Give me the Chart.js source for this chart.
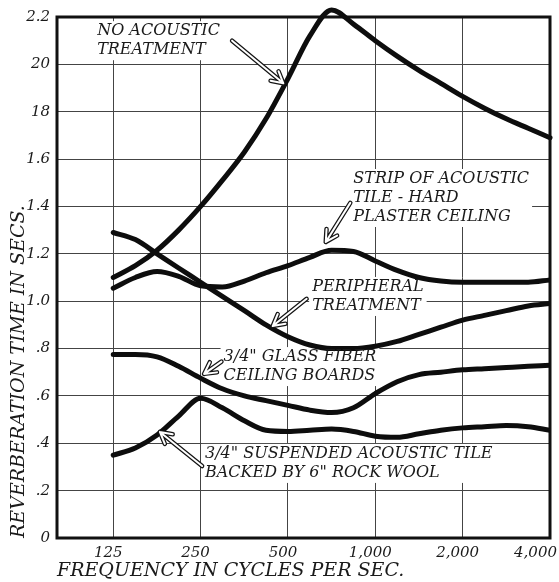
<!DOCTYPE html>
<html lang="en">
	<head>
		<meta charset="UTF-8" />
		<meta name="viewport" content="width=device-width, initial-scale=1.0" />
		<title>Reverberation Time</title>
		<script src="https://cdn.jsdelivr.net/npm/chart.js@4.4.3/dist/chart.umd.min.js"></script>
	</head>

	<style>
		body {
			margin: 0;
			background: #fff;
		}

		canvas {
			display: block;
		}
	</style>
	<body>
		<canvas id="reverbChart" width="559" height="582"></canvas>

		<script>
			// readings taken every quarter octave
			const frequencies = [125, 149, 177, 210, 250, 297, 354, 420, 500, 595, 707, 841, 1000, 1189, 1414, 1682, 2000, 2378, 2828, 3364, 4000];
			const noTreatment = [1.1, 1.15, 1.215, 1.3, 1.4, 1.51, 1.63, 1.77, 1.94, 2.12, 2.23, 2.17, 2.1, 2.035, 1.975, 1.92, 1.865, 1.815, 1.77, 1.73, 1.69];
			const stripTile = [1.055, 1.1, 1.125, 1.105, 1.065, 1.06, 1.085, 1.12, 1.15, 1.185, 1.215, 1.21, 1.17, 1.13, 1.1, 1.085, 1.08, 1.08, 1.08, 1.08, 1.09];
			const peripheral = [1.29, 1.26, 1.2, 1.14, 1.08, 1.02, 0.96, 0.9, 0.85, 0.815, 0.8, 0.8, 0.81, 0.83, 0.86, 0.89, 0.92, 0.94, 0.96, 0.98, 0.99];
			const glassFiber = [0.775, 0.775, 0.765, 0.725, 0.675, 0.63, 0.6, 0.58, 0.56, 0.54, 0.53, 0.55, 0.61, 0.66, 0.69, 0.7, 0.71, 0.715, 0.72, 0.725, 0.73];
			const suspendedTile = [0.35, 0.38, 0.435, 0.515, 0.59, 0.55, 0.495, 0.455, 0.45, 0.455, 0.46, 0.45, 0.43, 0.425, 0.44, 0.455, 0.465, 0.47, 0.475, 0.47, 0.455];

			const freqTicks = [125, 250, 500, 1000, 2000, 4000];
			const freqTickLabels = ["125", "250", "500", "1,000", "2,000", "4,000"];
			const timeTicks = [0, 0.2, 0.4, 0.6, 0.8, 1.0, 1.2, 1.4, 1.6, 1.8, 2.0, 2.2];
			const timeTickLabels = ["0", ".2", ".4", ".6", ".8", "1.0", "1.2", "1.4", "1.6", "18", "20", "2.2"];

			// hand lettered notes: text anchor and arrow, in frequency / seconds
			const notes = [
				{ lines: ["NO ACOUSTIC", "TREATMENT"], at: [110, 2.14], from: [321, 2.1], to: [482, 1.92] },
				{ lines: ["STRIP OF ACOUSTIC", "TILE - HARD", "PLASTER CEILING"], at: [840, 1.516], from: [820, 1.415], to: [675, 1.25] },
				{ lines: ["PERIPHERAL", "TREATMENT"], at: [606, 1.06], from: [580, 1.01], to: [443, 0.895] },
				{ lines: ['3/4" GLASS FIBER', "CEILING BOARDS"], at: [300, 0.764], from: [295, 0.745], to: [257, 0.693] },
				{ lines: ['3/4" SUSPENDED ACOUSTIC TILE', 'BACKED BY 6" ROCK WOOL'], at: [259, 0.355], from: [253, 0.304], to: [181, 0.448] },
			];

			const letterFont = "italic 16px 'DejaVu Serif'";
			const lineGap = 19;

			function toPoints(values) {
				return frequencies.map((f, i) => ({ x: f, y: values[i] }));
			}

			function drawArrow(ctx, x1, y1, x2, y2) {
				const a = Math.atan2(y2 - y1, x2 - x1);
				const head = 13;
				const path = () => {
					ctx.beginPath();
					ctx.moveTo(x1, y1);
					ctx.lineTo(x2, y2);
					ctx.moveTo(x2 - head * Math.cos(a - 0.5), y2 - head * Math.sin(a - 0.5));
					ctx.lineTo(x2, y2);
					ctx.lineTo(x2 - head * Math.cos(a + 0.5), y2 - head * Math.sin(a + 0.5));
				};
				ctx.lineCap = "round";
				ctx.lineJoin = "round";
				path();
				ctx.strokeStyle = "#151515";
				ctx.lineWidth = 4.5;
				ctx.stroke();
				path();
				ctx.strokeStyle = "#fff";
				ctx.lineWidth = 2;
				ctx.stroke();
			}

			const notesPlugin = {
				id: "notes",
				beforeDatasetsDraw(chart) {
					const { ctx, chartArea, scales } = chart;
					ctx.save();
					ctx.font = letterFont;
					ctx.fillStyle = "#fff";
					notes.forEach((n) => {
						const tx = scales.x.getPixelForValue(n.at[0]);
						const ty = scales.y.getPixelForValue(n.at[1]);
						const w = Math.max(...n.lines.map((l) => ctx.measureText(l).width));
						ctx.fillRect(tx - 3, ty - 10, w + 6, (n.lines.length - 1) * lineGap + 20);
					});
					// frame round the plot
					ctx.strokeStyle = "#111";
					ctx.lineWidth = 3;
					ctx.strokeRect(chartArea.left, chartArea.top, chartArea.right - chartArea.left, chartArea.bottom - chartArea.top);
					ctx.restore();
				},
				afterDatasetsDraw(chart) {
					const { ctx, scales } = chart;
					ctx.save();
					ctx.font = letterFont;
					ctx.fillStyle = "#1a1a1a";
					ctx.textBaseline = "middle";
					notes.forEach((n) => {
						const tx = scales.x.getPixelForValue(n.at[0]);
						const ty = scales.y.getPixelForValue(n.at[1]);
						n.lines.forEach((line, i) => ctx.fillText(line, tx, ty + i * lineGap));
						drawArrow(
							ctx,
							scales.x.getPixelForValue(n.from[0]),
							scales.y.getPixelForValue(n.from[1]),
							scales.x.getPixelForValue(n.to[0]),
							scales.y.getPixelForValue(n.to[1])
						);
					});
					ctx.restore();
				},
				afterDraw(chart) {
					const { ctx, scales } = chart;
					ctx.save();
					ctx.font = "italic 15px 'DejaVu Serif'";
					ctx.fillStyle = "#1a1a1a";
					ctx.textAlign = "center";
					ctx.textBaseline = "middle";
					freqTicks.forEach((f, i) => {
						const w = ctx.measureText(freqTickLabels[i]).width;
						const px = Math.min(scales.x.getPixelForValue(f) - 5, chart.width - 2 - w / 2);
						ctx.fillText(freqTickLabels[i], px, scales.x.top + 15);
					});
					ctx.restore();
				},
			};

			document.addEventListener("DOMContentLoaded", function () {
				const ctx = document.getElementById("reverbChart").getContext("2d");

				const axisFont = { family: "DejaVu Serif", style: "italic", size: 15 };
				const titleFont = { family: "DejaVu Serif", style: "italic", size: 19 };

				const reverbChart = new Chart(ctx, {
					type: "line",
					data: {
						datasets: [
							{ label: "No acoustic treatment", data: toPoints(noTreatment), clip: false },
							{ label: "Strip of acoustic tile - hard plaster ceiling", data: toPoints(stripTile) },
							{ label: "Peripheral treatment", data: toPoints(peripheral) },
							{ label: '3/4" glass fiber ceiling boards', data: toPoints(glassFiber) },
							{ label: '3/4" suspended acoustic tile backed by 6" rock wool', data: toPoints(suspendedTile) },
						],
					},
					options: {
						responsive: false,
						animation: false,
						layout: { padding: { top: 17, right: 9, left: 0, bottom: 0 } },
						plugins: {
							legend: { display: false },
							tooltip: { enabled: false },
						},
						elements: {
							point: { radius: 0 },
							line: {
								borderWidth: 5,
								borderColor: "#0d0d0d",
								cubicInterpolationMode: "monotone",
								borderCapStyle: "round",
								borderJoinStyle: "round",
							},
						},
						scales: {
							x: {
								type: "logarithmic",
								min: 80,
								max: 4000,
								afterBuildTicks: (s) => {
									s.ticks = freqTicks.map((v) => ({ value: v }));
								},
								afterFit: (s) => {
									s.height = 44;
								},
								ticks: { display: false },
								grid: { color: "#444", lineWidth: 1, drawTicks: false },
								border: { display: false },
								title: {
									display: true,
									text: "FREQUENCY IN CYCLES PER SEC.",
									align: "start",
									color: "#1a1a1a",
									font: titleFont,
									padding: 0,
								},
							},
							y: {
								min: 0,
								max: 2.2,
								afterBuildTicks: (s) => {
									s.ticks = timeTicks.map((v) => ({ value: v }));
								},
								afterFit: (s) => {
									s.width = 57;
								},
								ticks: {
									padding: 7,
									color: "#1a1a1a",
									font: axisFont,
									callback: (v, i) => timeTickLabels[i],
								},
								grid: { color: "#444", lineWidth: 1, drawTicks: false },
								border: { display: false },
								title: {
									display: true,
									text: "REVERBERATION TIME IN SECS.",
									align: "start",
									color: "#1a1a1a",
									font: titleFont,
									padding: { top: 8, bottom: 0 },
								},
							},
						},
					},
					plugins: [notesPlugin],
				});
			});
		</script>
	</body>
</html>
